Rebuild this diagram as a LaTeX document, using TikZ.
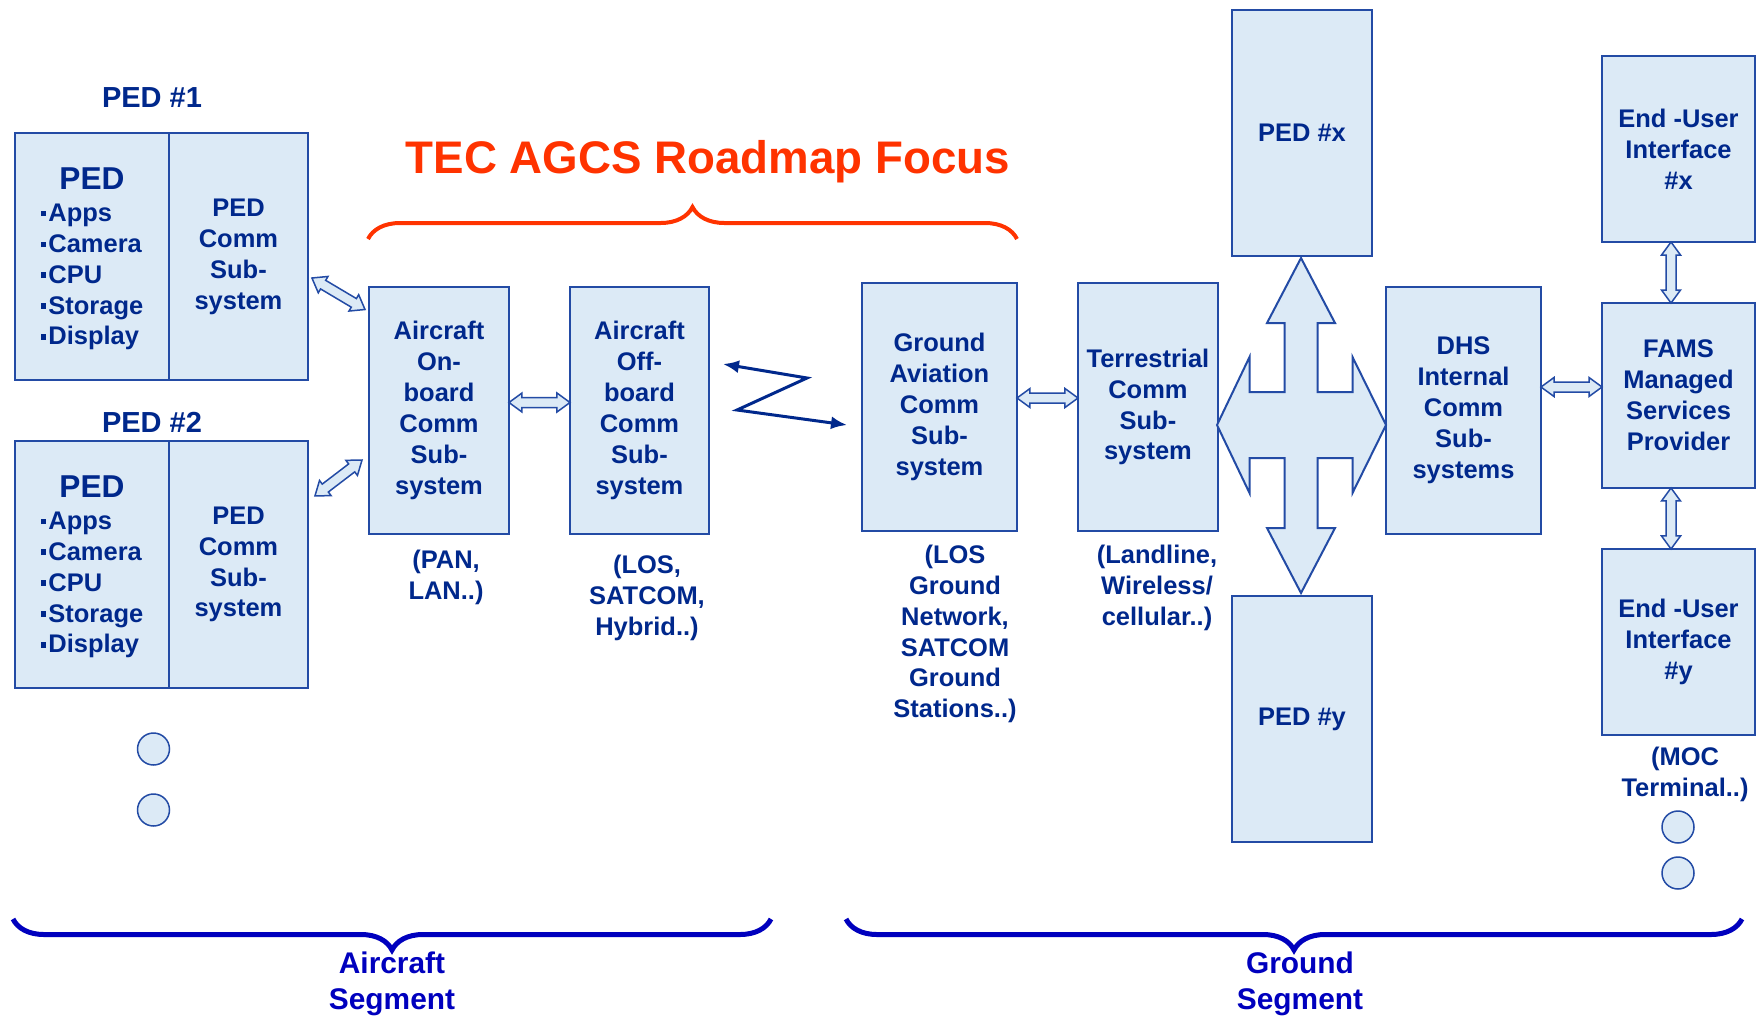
\documentclass[tikz,border=0pt]{standalone}
\usepackage{fontspec}
\setmainfont{Liberation Sans}
\usetikzlibrary{arrows.meta,positioning,calc,decorations.pathreplacing}
\definecolor{boxfill}{RGB}{220,234,246}
\definecolor{boxline}{RGB}{35,75,165}
\definecolor{navy}{RGB}{0,40,140}
\definecolor{focusred}{RGB}{255,51,0}
\definecolor{segblue}{RGB}{0,0,190}
\newcommand{\pedbul}{\rule[0.2em]{0.22em}{0.22em}\hspace{0.08em}}
\newcommand{\pedlist}{\raisebox{-0.09cm}[\height][\depth]{\begin{tabular}{@{}l@{}}
  \multicolumn{1}{@{}c@{}}{\fontsize{18}{21}\selectfont PED}\\[0.5pt]
  \pedbul Apps\\ \pedbul Camera\\ \pedbul CPU\\ \pedbul Storage\\ \pedbul Display
\end{tabular}}}

\begin{document}
\begin{tikzpicture}[x=0.02cm, y=-0.02cm,
    blk/.style={rectangle, draw=boxline, fill=boxfill, line width=0.04cm,
                inner sep=0pt, outer sep=0pt, text=navy, align=center,
                font=\fontsize{14.5}{17.6}\selectfont\bfseries},
    subnote/.style={text=navy, align=center, inner sep=0pt,
                font=\fontsize{14.5}{17.6}\selectfont\bfseries},
    pedtag/.style={text=navy, inner sep=0pt,
                font=\fontsize{16.5}{20}\selectfont\bfseries},
    headline/.style={text=focusred, inner sep=0pt,
                font=\fontsize{26}{30}\selectfont\bfseries},
    segtag/.style={text=segblue, align=center, inner sep=0pt,
                font=\fontsize{17}{20.5}\selectfont\bfseries},
    morec/.style={circle, draw=boxline, fill=boxfill, line width=0.03cm,
                minimum size=0.64cm, inner sep=0pt},
    focusbrace/.style={decorate, decoration={brace, amplitude=0.64cm},
                draw=focusred, line width=0.08cm},
    segbrace/.style={decorate, decoration={brace, amplitude=0.62cm, mirror},
                draw=segblue, line width=0.1cm},
    radio/.style={navy, line width=0.06cm,
                {Latex[length=0.32cm,width=0.26cm]}-{Latex[length=0.32cm,width=0.26cm]}},
    hubarrow/.style={draw=boxline, fill=boxfill, line width=0.04cm, line join=miter},
    hollowarr/.style={draw=boxline, fill=boxfill, line width=0.03cm, line join=miter,
      to path={
        -- ($(\tikztostart)!0.26cm!(\tikztotarget)!0.19cm!90:(\tikztotarget)$)
        -- ($(\tikztostart)!0.26cm!(\tikztotarget)!0.1cm!90:(\tikztotarget)$)
        -- ($(\tikztotarget)!0.26cm!(\tikztostart)!0.1cm!-90:(\tikztostart)$)
        -- ($(\tikztotarget)!0.26cm!(\tikztostart)!0.19cm!-90:(\tikztostart)$)
        -- (\tikztotarget)
        -- ($(\tikztotarget)!0.26cm!(\tikztostart)!0.19cm!90:(\tikztostart)$)
        -- ($(\tikztotarget)!0.26cm!(\tikztostart)!0.1cm!90:(\tikztostart)$)
        -- ($(\tikztostart)!0.26cm!(\tikztotarget)!0.1cm!-90:(\tikztotarget)$)
        -- ($(\tikztostart)!0.26cm!(\tikztotarget)!0.19cm!-90:(\tikztotarget)$)
        -- cycle}}]

    \path[use as bounding box, fill=white] (0,0) rectangle (1757,1018);

    % Roadmap focus heading
    \node[headline] (focus) at (708,162) {TEC AGCS Roadmap Focus};
    \draw[focusbrace] (368,239) -- (1017,239);

    % PEDs on board
    \node[pedtag] (ped1lbl) at (152,98) {PED \#1};
    \node[blk, minimum width=3.08cm, minimum height=4.94cm] (ped1l) at (92,256.5) {\pedlist};
    \node[blk, minimum width=2.78cm, minimum height=4.94cm, right=0pt of ped1l] (ped1r) {PED\\Comm\\Sub-\\system};
    \node[pedtag] (ped2lbl) at (152,422) {PED \#2};
    \node[blk, minimum width=3.08cm, minimum height=4.94cm, below=1.22cm of ped1l] (ped2l) {\pedlist};
    \node[blk, minimum width=2.78cm, minimum height=4.94cm, right=0pt of ped2l] (ped2r) {PED\\Comm\\Sub-\\system};
    \node[morec] (dot1) at (153.5,749) {};
    \node[morec] (dot2) at (153.5,810) {};

    % Aircraft comm
    \node[blk, minimum width=2.8cm, minimum height=4.94cm] (onb) at (439,410.5) {Aircraft\\On-\\board\\Comm\\Sub-\\system};
    \node[blk, minimum width=2.78cm, minimum height=4.94cm, right=1.22cm of onb] (offb) {Aircraft\\Off-\\board\\Comm\\Sub-\\system};
    \node[subnote] (onbnote) at (446,577) {(PAN,\\LAN..)};
    \node[subnote] (offbnote) at (647,598) {(LOS,\\SATCOM,\\Hybrid..)};

    % Ground comm
    \node[blk, minimum width=3.1cm, minimum height=4.96cm] (gav) at (939.5,407) {Ground\\Aviation\\Comm\\Sub-\\system};
    \node[blk, minimum width=2.8cm, minimum height=4.96cm, right=1.22cm of gav] (terr) {Terrestrial\\Comm\\Sub-\\system};
    \node[subnote] (gavnote) at (955,634) {(LOS\\Ground\\Network,\\SATCOM\\Ground\\Stations..)};
    \node[subnote] (terrnote) at (1157,588) {(Landline,\\Wireless/\\cellular..)};

    \node[blk, minimum width=2.8cm, minimum height=4.92cm] (pedx) at (1302,133) {PED \#x};
    \node[blk, minimum width=2.8cm, minimum height=4.92cm] (pedy) at (1302,719) {PED \#y};
    \node[blk, minimum width=3.1cm, minimum height=4.94cm] (dhs) at (1463.5,410.5) {DHS\\Internal\\Comm\\Sub-\\systems};

    % FAMS column
    \node[blk, minimum width=3.06cm, minimum height=3.7cm] (fams) at (1678.5,395.5) {FAMS\\Managed\\Services\\Provider};
    \node[blk, minimum width=3.06cm, minimum height=3.72cm, above=1.22cm of fams] (euix) {End -User\\Interface\\\#x};
    \node[blk, minimum width=3.06cm, minimum height=3.72cm, below=1.22cm of fams] (euiy) {End -User\\Interface\\\#y};
    \node[subnote] (euiynote) at (1685,774) {(MOC\\Terminal..)};
    \node[morec] (dot3) at (1678,827) {};
    \node[morec] (dot4) at (1678,873) {};

    % four-way arrow
    \coordinate (hub) at (1301,425);
    \draw[hubarrow, shift={(hub)}]
      (0,-167) -- (34,-102) -- (16.5,-102) -- (16.5,-33) -- (51.5,-33) -- (51.5,-68)
      -- (85,0) -- (51.5,68) -- (51.5,33) -- (16.5,33) -- (16.5,103) -- (34,103)
      -- (0,168) -- (-34,103) -- (-16.5,103) -- (-16.5,33) -- (-51.5,33) -- (-51.5,68)
      -- (-84,0) -- (-51.5,-68) -- (-51.5,-33) -- (-16.5,-33) -- (-16.5,-102) -- (-34,-102)
      -- cycle;

    % hollow links
    \coordinate (l1a) at ($(ped1r.east)+(4,21.5)$);
    \coordinate (l1b) at ($(onb.west)+(-4,-101)$);
    \coordinate (l2a) at ($(ped2r.east)+(7,-68.5)$);
    \coordinate (l2b) at ($(onb.west)+(-7,49.5)$);
    \coordinate (l3a) at ($(onb.east)+(0,-8)$);
    \coordinate (l3b) at ($(offb.west)+(0,-8)$);
    \coordinate (l4a) at ($(gav.east)+(0,-9)$);
    \coordinate (l4b) at ($(terr.west)+(0,-9)$);
    \coordinate (l5a) at ($(dhs.east)+(0,-23.5)$);
    \coordinate (l5b) at ($(fams.west)+(0,-8.5)$);
    \coordinate (l6a) at ($(euix.south)+(-7.5,0)$);
    \coordinate (l6b) at ($(fams.north)+(-7.5,0)$);
    \coordinate (l7a) at ($(fams.south)+(-7.5,0)$);
    \coordinate (l7b) at ($(euiy.north)+(-7.5,0)$);
    \foreach \k in {1,...,7}
      \draw[hollowarr] (l\k a) to (l\k b);

    % air-ground link
    \coordinate (zzA) at (807,378);
    \coordinate (zzB) at (737,410);
    \draw[radio] ($(offb.east)+(14,-46.5)$) -- (zzA) -- (zzB) -- ($(gav.west)+(-15,18)$);

    % segments
    \draw[segbrace] (13,919) -- (771,919);
    \node[segtag] (acseg) at (392,984) {Aircraft\\Segment};
    \draw[segbrace] (846,919) -- (1742,919);
    \node[segtag] (gndseg) at (1300,984) {Ground\\Segment};
\end{tikzpicture}
\end{document}
